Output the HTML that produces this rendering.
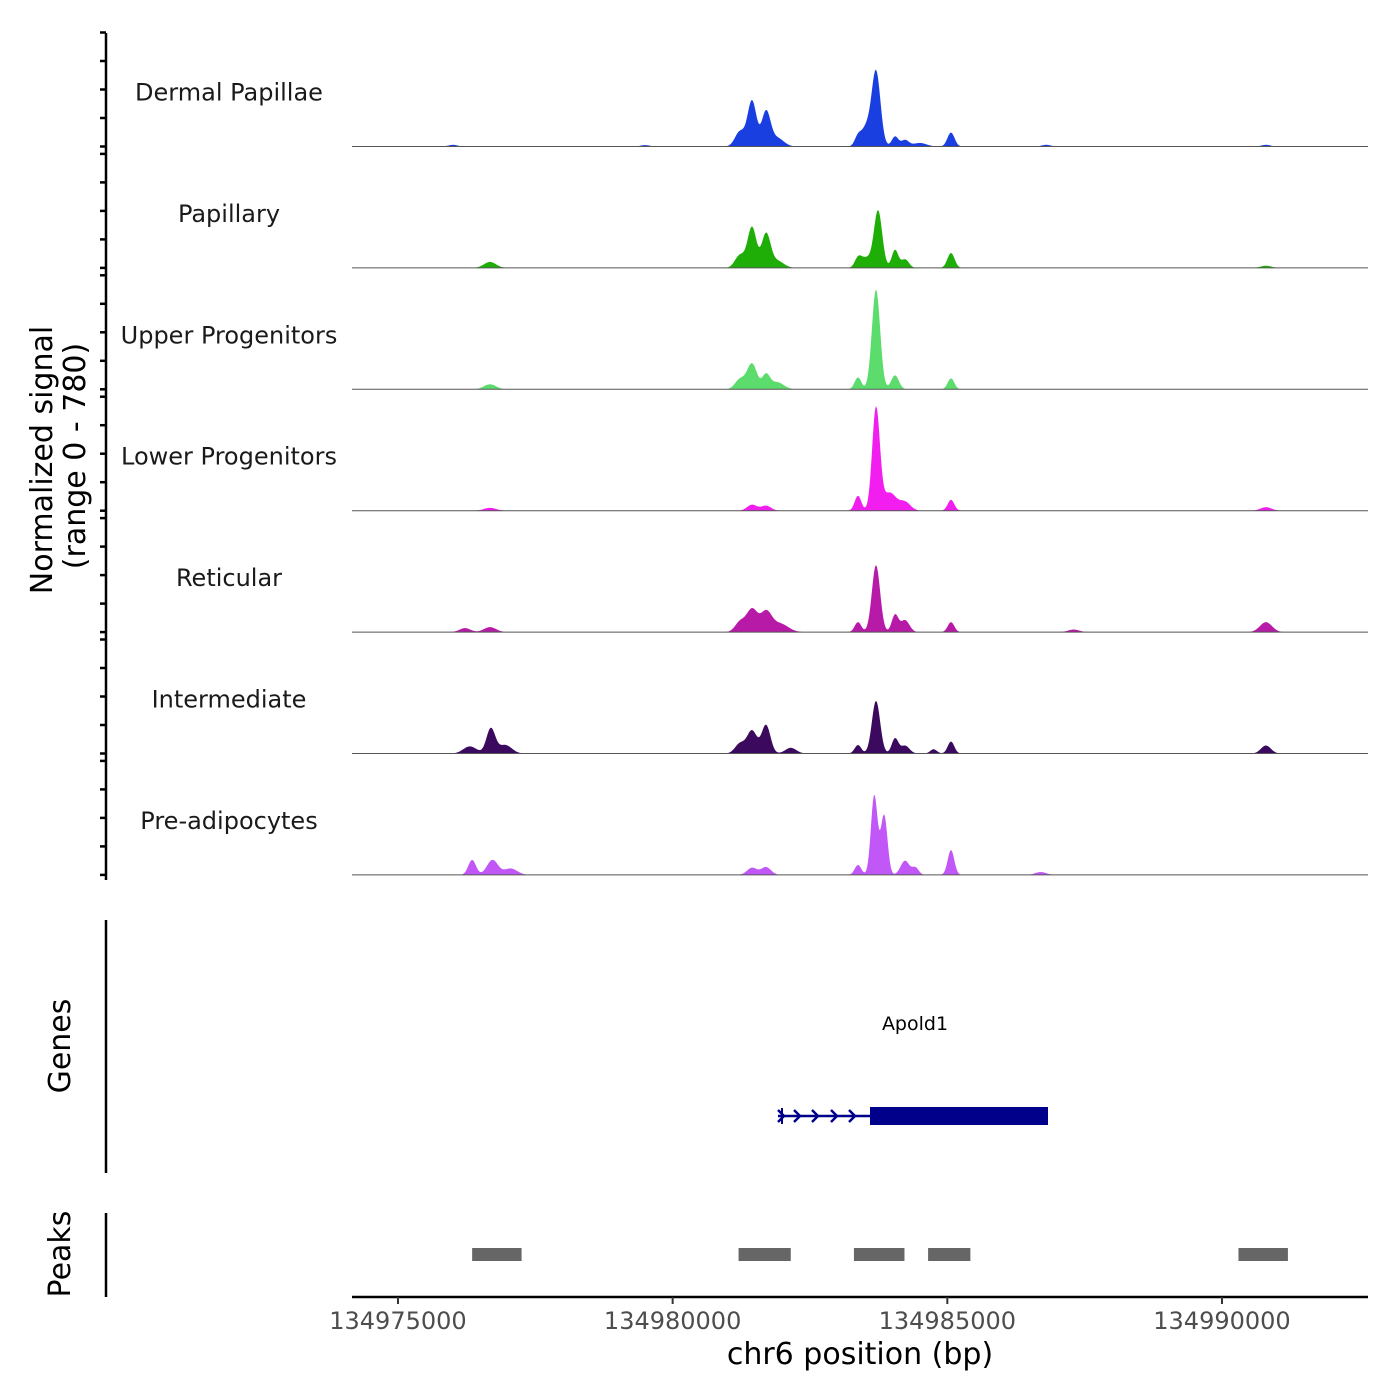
<!DOCTYPE html>
<html><head><meta charset="utf-8"><style>
html,body{margin:0;padding:0;background:#fff;}
svg{display:block;font-family:"DejaVu Sans","Liberation Sans",sans-serif;}
</style></head><body>
<svg id="chart" width="1400" height="1400" viewBox="0 0 1400 1400" xmlns="http://www.w3.org/2000/svg">
<g id="tracks"></g>
<g id="axes"></g>
<text transform="translate(52,460) rotate(-90)" text-anchor="middle" font-size="30" fill="#000">Normalized signal</text>
<text transform="translate(85,456) rotate(-90)" text-anchor="middle" font-size="30" fill="#000">(range 0 - 780)</text>
<text transform="translate(70,1046) rotate(-90)" text-anchor="middle" font-size="30" fill="#000">Genes</text>
<text transform="translate(70,1254) rotate(-90)" text-anchor="middle" font-size="30" fill="#000">Peaks</text>
<text x="860" y="1364" text-anchor="middle" font-size="30" fill="#000">chr6 position (bp)</text>
<text x="915" y="1030" text-anchor="middle" font-size="19" fill="#000">Apold1</text>
</svg>
<script>
const tracks = ["Dermal Papillae","Papillary","Upper Progenitors","Lower Progenitors","Reticular","Intermediate","Pre-adipocytes"];
const colors = ["#1a3fe0","#1fae07","#5cdc6c","#f21ef0","#b81aa8","#3b0a5e","#c257f7"];
// peak centers (bp), heights (signal), widths (bp sigma)
const peakPos = [
 [134981226,134981445,134981700,134981900,134983374,134983520,134983702,134984048,134984230,134984500,134985067,134976000,134979500,134986800,134990800],
 [134976675,134981226,134981445,134981700,134981900,134983374,134983520,134983740,134984048,134984230,134985067,134990800],
 [134976675,134981226,134981445,134981700,134981900,134983374,134983702,134984048,134985067],
 [134976675,134981445,134981700,134983374,134983702,134983950,134984230,134985067,134990800],
 [134976220,134976675,134981226,134981445,134981700,134981950,134983374,134983702,134984048,134984230,134985067,134987300,134990800],
 [134976310,134976690,134976950,134981226,134981445,134981700,134982150,134983374,134983702,134984048,134984230,134984750,134985067,134990800],
 [134976350,134976720,134977050,134981445,134981700,134983374,134983670,134983850,134984230,134984420,134985067,134986700]
];
const peakHeight = [
 [105,320,240,60,70,126,530,70,45,25,98,12,10,12,12],
 [42,90,285,235,50,60,70,400,126,60,105,15],
 [35,70,180,98,50,84,700,98,77],
 [20,42,35,105,720,126,60,77,25],
 [28,35,70,160,135,60,70,470,120,84,70,18,70],
 [50,175,60,70,160,200,40,60,370,105,55,30,84,56],
 [105,105,45,50,55,70,560,420,100,50,175,20]
];
const peakWidth = [
 [90,80,80,120,60,80,80,60,70,120,65,80,80,80,80],
 [110,90,80,80,120,60,100,75,60,70,65,100],
 [110,90,90,70,120,60,75,70,60],
 [110,90,90,60,70,120,100,60,100],
 [100,110,90,100,100,150,60,75,60,80,60,100,110],
 [120,80,120,90,90,80,100,60,75,60,80,60,60,90],
 [70,100,120,90,90,60,60,60,80,60,60,100]
];
const peakRegions = [[134976350,134977250],[134981200,134982150],[134983300,134984220],[134984650,134985420],[134990300,134991200]];
const xTicks = [134975000,134980000,134985000,134990000];
const yTicks = [0,200,400,600,800];

const X0=352,X1=1368, BP0=134974163, BP1=134992658;
const xs = bp => X0 + (bp-BP0)/(BP1-BP0)*(X1-X0);
const baseY = i => 146.5 + i*121.4;
const ys = (i,v) => baseY(i) - v*0.1425;
const NS="http://www.w3.org/2000/svg";
const tg=document.getElementById('tracks'), ag=document.getElementById('axes');
function mk(tag,attrs,parent){const e=document.createElementNS(NS,tag);for(const k in attrs)e.setAttribute(k,attrs[k]);parent.appendChild(e);return e;}

tracks.forEach((name,i)=>{
  const g=mk('g',{},tg);
  
  
  let d='M'+X0+','+baseY(i);
  for(let x=X0;x<=X1;x+=1){
    const bp=BP0+(x-X0)/(X1-X0)*(BP1-BP0);
    let v=0;
    peakPos[i].forEach((p,k)=>{const z=(bp-p)/peakWidth[i][k];v+=peakHeight[i][k]*Math.exp(-0.5*z*z);});
    d+=' L'+x+','+ys(i,v).toFixed(2);
  }
  d+=' L'+X1+','+baseY(i)+' Z';
  const a=mk('path',{d:d,fill:colors[i]},g);
  
  
  const bl=mk('line',{x1:X0,x2:X1,y1:baseY(i),y2:baseY(i),stroke:'#555','stroke-width':1},g);
  
  
  const t=mk('text',{x:229,y:baseY(i)-46,'text-anchor':'middle','font-size':24,fill:'#1a1a1a'},g);
  t.textContent=name;
  
  
  yTicks.forEach(v=>{
    const tk=mk('line',{x1:100,x2:106,y1:ys(i,v),y2:ys(i,v),stroke:'#000','stroke-width':2.5},ag);
    
    
  });
});
[[33,880],[920,1173],[1213,1297]].forEach(r=>{
  const l=mk('line',{x1:106,x2:106,y1:r[0],y2:r[1],stroke:'#000','stroke-width':2.5},ag);
  
  
});
const xl=mk('line',{x1:X0,x2:X1,y1:1297,y2:1297,stroke:'#000','stroke-width':2.5},ag);


xTicks.forEach(bp=>{
  const tk=mk('line',{x1:xs(bp),x2:xs(bp),y1:1297,y2:1304,stroke:'#333','stroke-width':2},ag);
  
  
  const t=mk('text',{x:xs(bp),y:1329,'text-anchor':'middle','font-size':24,fill:'#4d4d4d'},ag);
  t.textContent=bp;
  
  
});
const gg=mk('g',{},ag);


mk('line',{x1:778,x2:1048,y1:1116,y2:1116,stroke:'#00008b','stroke-width':2.5},gg);
mk('rect',{x:870,y:1107,width:178,height:18,fill:'#00008b'},gg);
mk('line',{x1:782,x2:782,y1:1108,y2:1124,stroke:'#00008b','stroke-width':2},gg);
[782,798,816,835,853].forEach(x=>{mk('path',{d:`M${x-4},${1110} L${x+2},1116 L${x-4},1122`,fill:'none',stroke:'#00008b','stroke-width':2.5},gg);});
peakRegions.forEach(r=>{
  const p=mk('rect',{x:xs(r[0]),y:1248,width:xs(r[1])-xs(r[0]),height:13,fill:'#666'},ag);
  
  
});
</script>
</body></html>
